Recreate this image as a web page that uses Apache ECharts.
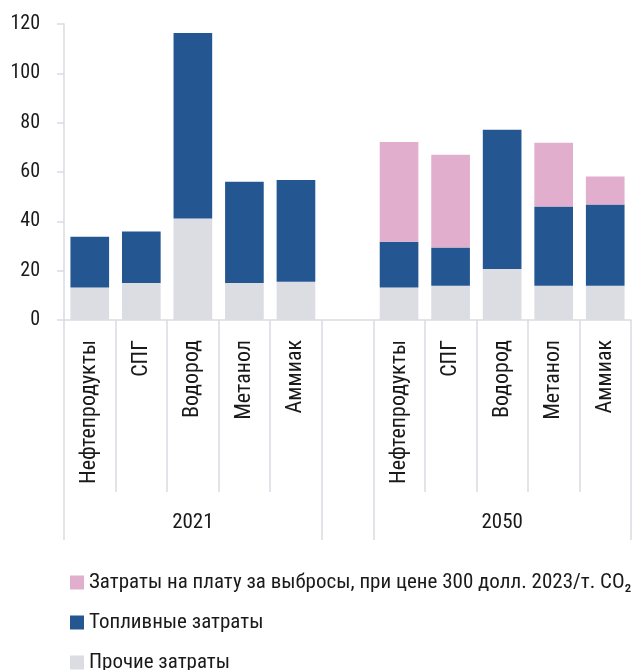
<!DOCTYPE html>
<html><head><meta charset="utf-8">
<script src="https://cdn.jsdelivr.net/npm/echarts@6/dist/echarts.min.js"></script>
<style>html,body{margin:0;padding:0;background:#fff}#c{width:639px;height:670px}</style>
</head><body><div id="c"></div>
<script>
var fuels = ['Нефтепродукты', 'СПГ', 'Водород', 'Метанол', 'Аммиак'];
var groups = ['2021', '2050'];
var other2021 = [13.2, 15, 41.1, 15, 15.5];
var fuel2021 = [20.6, 20.9, 75.3, 41, 41.3];
var emis2021 = [0, 0, 0, 0, 0];
var other2050 = [13.2, 13.9, 20.7, 13.9, 13.9];
var fuel2050 = [18.5, 15.5, 56.4, 32.1, 32.9];
var emis2050 = [40.5, 37.6, 0, 25.9, 11.4];
var yTicks = [0, 20, 40, 60, 80, 100, 120];
var seriesNames = ['Затраты на плату за выбросы, при цене 300 долл. 2023/т. CO₂', 'Топливные затраты', 'Прочие затраты'];

var cats = fuels.concat(['']).concat(fuels);
function join(a, b) { return a.concat(['-']).concat(b); }
function nz(a) { return a.map(function (v) { return v === 0 ? '-' : v; }); }
var FONT = '"Roboto Condensed", "Liberation Sans Narrow", "DejaVu Sans Condensed", sans-serif';
var lineC = '#DADAE4';
var txt = '#1a1a1a';
var chart = echarts.init(document.getElementById('c'));
chart.setOption({
  animation: false,
  textStyle: { fontFamily: FONT },
  grid: { left: 64, right: 8, top: 24, bottom: 350 },
  legend: {
    orient: 'vertical', left: 65, top: 567, height: 150, itemWidth: 14, itemHeight: 14, itemGap: 19,
    icon: 'rect',
    data: seriesNames,
    textStyle: { fontFamily: FONT, fontSize: 21, lineHeight: 20, color: txt }
  },
  xAxis: [{
    type: 'category', data: cats, boundaryGap: true,
    axisLine: { lineStyle: { color: lineC, width: 1.5 } },
    axisTick: { show: true, length: 172, interval: 0, lineStyle: { color: lineC, width: 1.5 } },
    axisLabel: { rotate: 90, margin: 20, interval: 0, fontSize: 22, color: txt, fontFamily: FONT }
  }, {
    type: 'category', data: cats, boundaryGap: true, position: 'bottom',
    axisLine: { show: false },
    axisTick: { show: true, length: 220, lineStyle: { color: lineC, width: 1.5 },
      interval: function (i) { return i === 0 || i === 5 || i === 6; } },
    axisLabel: { margin: 192, fontSize: 21, color: txt, fontFamily: FONT,
      interval: function (i) { return i === 2 || i === 8; },
      formatter: function (v, i) { return i === 2 ? groups[0] : (i === 8 ? groups[1] : ''); } }
  }],
  yAxis: {
    type: 'value', min: 0, max: 120, interval: 20,
    axisLine: { show: true, lineStyle: { color: lineC, width: 1.5 } },
    axisTick: { show: true, length: 7, lineStyle: { color: lineC, width: 1.5 } },
    splitLine: { show: false },
    axisLabel: { margin: 24, fontSize: 20, color: txt, fontFamily: FONT,
      formatter: function (v) { return yTicks.indexOf(v) >= 0 ? String(v) : ''; } }
  },
  series: [{
    name: seriesNames[2], type: 'bar', stack: 's', barCategoryGap: '25%',
    data: join(other2021, other2050), itemStyle: { color: '#DCDCE3' }
  }, {
    name: seriesNames[1], type: 'bar', stack: 's',
    data: join(fuel2021, fuel2050), itemStyle: { color: '#245792' }
  }, {
    name: seriesNames[0], type: 'bar', stack: 's',
    data: join(nz(emis2021), nz(emis2050)), itemStyle: { color: '#E1AECE' }
  }]
});
</script></body></html>
